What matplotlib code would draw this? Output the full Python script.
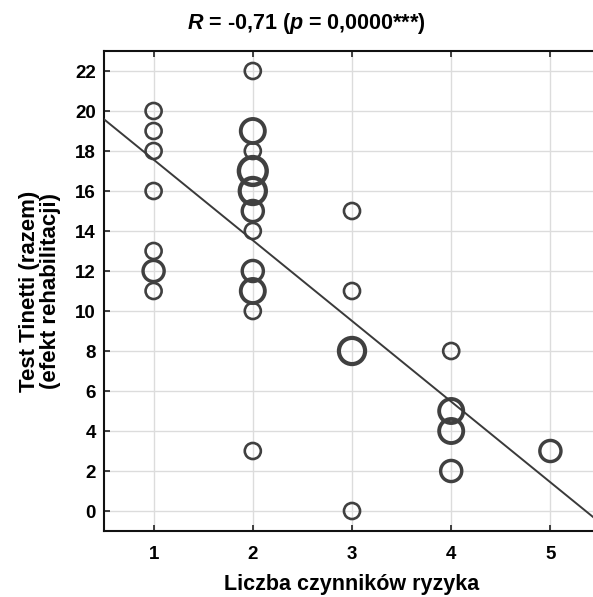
import numpy as np
import matplotlib
matplotlib.use("Agg")
import matplotlib.pyplot as plt

# ---- data ----
x_vals = [1, 1, 1, 1, 1, 1, 1,
          2, 2, 2, 2, 2, 2, 2, 2, 2, 2, 2,
          3, 3, 3, 3,
          4, 4, 4, 4,
          5]
y_vals = [20, 19, 18, 16, 13, 12, 11,
          22, 19, 18, 17, 16, 15, 14, 12, 11, 10, 3,
          15, 11, 8, 0,
          8, 5, 4, 2,
          3]
counts = [1, 1, 1, 1, 1, 2, 1,
          1, 3, 1, 5, 4, 2, 1, 2, 3, 1, 1,
          1, 1, 4, 1,
          1, 3, 3, 2,
          2]
x_ticks = [1, 2, 3, 4, 5]
y_ticks = [0, 2, 4, 6, 8, 10, 12, 14, 16, 18, 20, 22]
title_txt = r'$\mathbfit{R}$ = -0,71 ($\mathbfit{p}$ = 0,0000***)'
x_label = 'Liczba czynników ryzyka'
y_label = 'Test Tinetti (razem)\n(efekt rehabilitacji)'

plt.rcParams['font.family'] = ['Liberation Sans', 'DejaVu Sans']
plt.rcParams['mathtext.fontset'] = 'custom'
plt.rcParams['mathtext.rm'] = 'Liberation Sans:bold'
try:
    plt.rcParams['mathtext.bfit'] = 'Liberation Sans:italic:bold'
except KeyError:
    pass
plt.rcParams['mathtext.it'] = 'Liberation Sans:italic:bold'
plt.rcParams['mathtext.bf'] = 'Liberation Sans:bold'

DPI = 100
fig = plt.figure(figsize=(5.93, 5.97), dpi=DPI)
W, H = 593, 597
left, right, top, bottom = 104, 600, 51, 531
ax = fig.add_axes([left / W, 1 - bottom / H, (right - left) / W, (bottom - top) / H])

ax.set_xlim(0.5, 5.5)
ax.set_ylim(-1, 23)

ax.grid(True, color='#dcdcdc', linewidth=1.0, zorder=0)
ax.set_axisbelow(True)

c = np.array(counts, dtype=float)
outer_px = 18.7 + 8.4 * np.log(c)
mew = 1.9 + 0.8 * np.log(c)
ms = outer_px * 72 / DPI - mew
ax.scatter(x_vals, y_vals, s=ms ** 2, facecolors='none', edgecolors='#404040',
           linewidths=mew, zorder=3)

# weighted linear fit
xr = np.repeat(np.array(x_vals, float), counts)
yr = np.repeat(np.array(y_vals, float), counts)
b, a = np.polyfit(xr, yr, 1)
xl = np.array([0.5, 5.5])
ax.plot(xl, a + b * xl, color='#3a3a3a', linewidth=1.4, zorder=4)

ax.set_xticks(x_ticks)
ax.set_yticks(y_ticks)
ax.tick_params(axis='both', direction='in', length=4, width=1.2, color='#222222',
               labelsize=13.5, top=True, right=True)
ax.tick_params(axis='y', pad=6)
ax.tick_params(axis='x', pad=11)
for lab in ax.get_xticklabels() + ax.get_yticklabels():
    lab.set_fontweight('bold')

for s in ['left', 'top', 'bottom', 'right']:
    ax.spines[s].set_linewidth(1.5)
    ax.spines[s].set_color('#111111')

ax.set_xlabel(x_label, fontsize=15.5, fontweight='bold')
ax.xaxis.set_label_coords(0.5, -0.089)
ax.set_ylabel(y_label, fontsize=16, fontweight='bold', linespacing=1.05)
ax.yaxis.set_label_coords(-0.086, 0.5)

fig.text(306 / W, 1 - 24 / H, title_txt, fontsize=15.5, fontweight='bold',
         ha='center', va='center')

fig.savefig('out.png', dpi=DPI)
